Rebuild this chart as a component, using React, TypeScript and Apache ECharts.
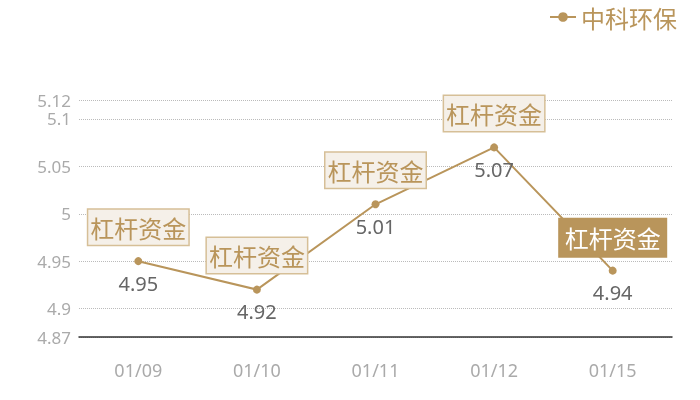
import { useEffect, useRef } from 'react';
import * as echarts from 'echarts';

const dates = ['01/09', '01/10', '01/11', '01/12', '01/15'];
const prices = [4.95, 4.92, 5.01, 5.07, 4.94];
const markIdx = [0, 1, 2, 3, 4];
const markText = '杠杆资金';
const seriesName = '中科环保';

const gold = '#b9955b';

export default function App() {
    const chartRef = useRef<HTMLDivElement>(null);

    useEffect(() => {
        if (!chartRef.current) return;
        const chart = echarts.init(chartRef.current, null, { renderer: 'svg' });

        // last mark is highlighted with a filled box
        const markData = markIdx.map((i) => {
            const last = i === prices.length - 1;
            return {
                coord: [dates[i], prices[i]],
                label: last
                    ? {
                        color: '#fff',
                        backgroundColor: gold,
                        borderColor: gold,
                        padding: [5, 5],
                        distance: 14
                    }
                    : {}
            };
        });

        chart.setOption({
            animation: false,
            textStyle: { fontFamily: '"Noto Sans", "Noto Sans CJK SC", sans-serif' },
            legend: {
                data: [seriesName],
                right: 18,
                top: 0,
                itemWidth: 26,
                itemHeight: 12,
                itemGap: 6,
                textStyle: { color: gold, fontSize: 24, fontFamily: '"Noto Sans CJK SC", sans-serif' }
            },
            grid: { left: 79, right: 28, top: 100, bottom: 63 },
            xAxis: {
                type: 'category',
                data: dates,
                axisLine: { lineStyle: { color: '#333', width: 1.5 } },
                axisTick: { show: false },
                axisLabel: { color: '#aaa', fontSize: 18, margin: 24 }
            },
            yAxis: {
                type: 'value',
                min: 4.87,
                max: 5.12,
                axisLine: { show: false },
                axisTick: { show: false },
                axisLabel: { color: '#aaa', fontSize: 17, margin: 8 },
                splitLine: { lineStyle: { type: 'dotted', color: '#bbb' } }
            },
            series: [
                {
                    name: seriesName,
                    type: 'line',
                    data: prices,
                    symbol: 'circle',
                    symbolSize: 8,
                    lineStyle: { color: gold, width: 2 },
                    itemStyle: { color: gold },
                    label: {
                        show: true,
                        position: 'bottom',
                        distance: 8,
                        color: '#666',
                        fontSize: 20
                    },
                    markPoint: {
                        symbol: 'circle',
                        symbolSize: 1,
                        itemStyle: { color: 'rgba(0,0,0,0)' },
                        label: {
                            show: true,
                            position: 'top',
                            distance: 16,
                            formatter: markText,
                            color: gold,
                            fontSize: 24,
                            lineHeight: 27,
                            fontFamily: '"Noto Sans CJK SC", sans-serif',
                            backgroundColor: '#f5f0e9',
                            borderColor: '#d6bf97',
                            borderWidth: 1.5,
                            padding: [4, 2]
                        },
                        data: markData
                    }
                }
            ]
        });

        return () => chart.dispose();
    }, []);

    return (
        <div
            ref={chartRef}
            style={{ position: 'fixed', left: 0, top: 0, width: 700, height: 400 }}
        />
    );
}
